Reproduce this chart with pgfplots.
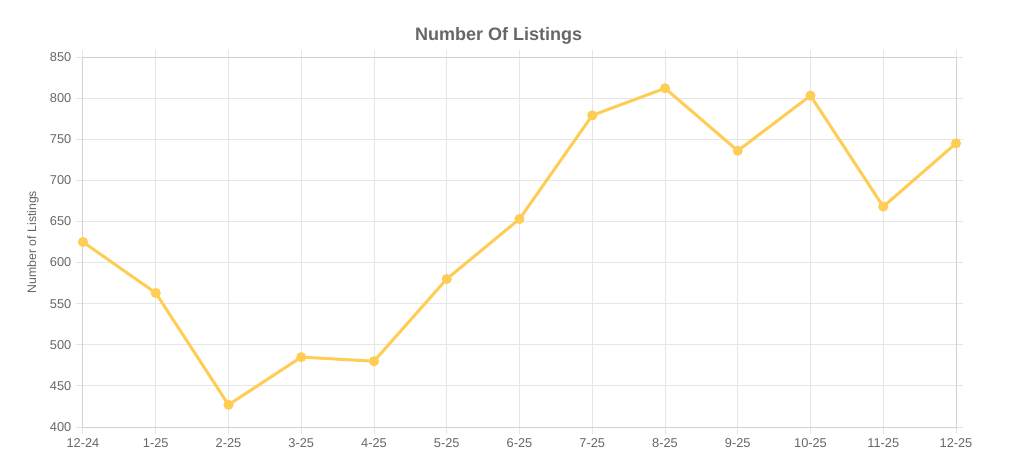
\documentclass[border=0pt]{standalone}
\usepackage{pgfplots}
\pgfplotsset{compat=1.18}
\usepackage{fontspec}
\setmainfont{Liberation Sans}
\definecolor{lineyellow}{HTML}{FFCD56}
\definecolor{gridc}{HTML}{E6E6E6}
\definecolor{txt}{HTML}{666666}
\begin{document}
\begin{tikzpicture}
\path[use as bounding box] (0,0) rectangle (761.25pt,351.75pt);
\begin{axis}[
  at={(62.25pt,31.5pt)}, anchor=south west,
  scale only axis, width=654.75pt, height=277.5pt,
  xmin=0, xmax=12, ymin=400, ymax=850,
  xtick={0,...,12},
  xticklabels={12-24,1-25,2-25,3-25,4-25,5-25,6-25,7-25,8-25,9-25,10-25,11-25,12-25},
  ytick={400,450,...,850},
  grid=major,
  grid style={gridc, line width=0.75pt},
  axis line style={gridc!80!gray, line width=0.75pt},
  tick align=outside,
  major tick length=5.25pt,
  tick style={gridc, line width=0.75pt},
  tick label style={font=\fontsize{9.6}{10}\selectfont, text=txt},
  /pgf/number format/assume math mode=true,
  /pgf/number format/1000 sep={},
  ylabel={Number of Listings},
  ylabel style={font=\fontsize{9.2}{10}\selectfont, text=txt, at={(axis description cs:0,0.5)}, yshift=37.5pt, anchor=center},
  title={\textbf{Number Of Listings}},
  title style={font=\fontsize{13.5}{15}\selectfont, text=txt, at={(axis description cs:0.476,1)}, yshift=10pt, anchor=center},
  clip=false,
]
\addplot[lineyellow, line width=2.25pt, mark=*, mark size=2.6pt, mark options={fill=lineyellow, draw=lineyellow}]
coordinates {
(0,625) (1,563) (2,427) (3,485) (4,480) (5,580) (6,653) (7,779) (8,812) (9,736) (10,803) (11,668) (12,745)
};
\end{axis}
\end{tikzpicture}
\end{document}
